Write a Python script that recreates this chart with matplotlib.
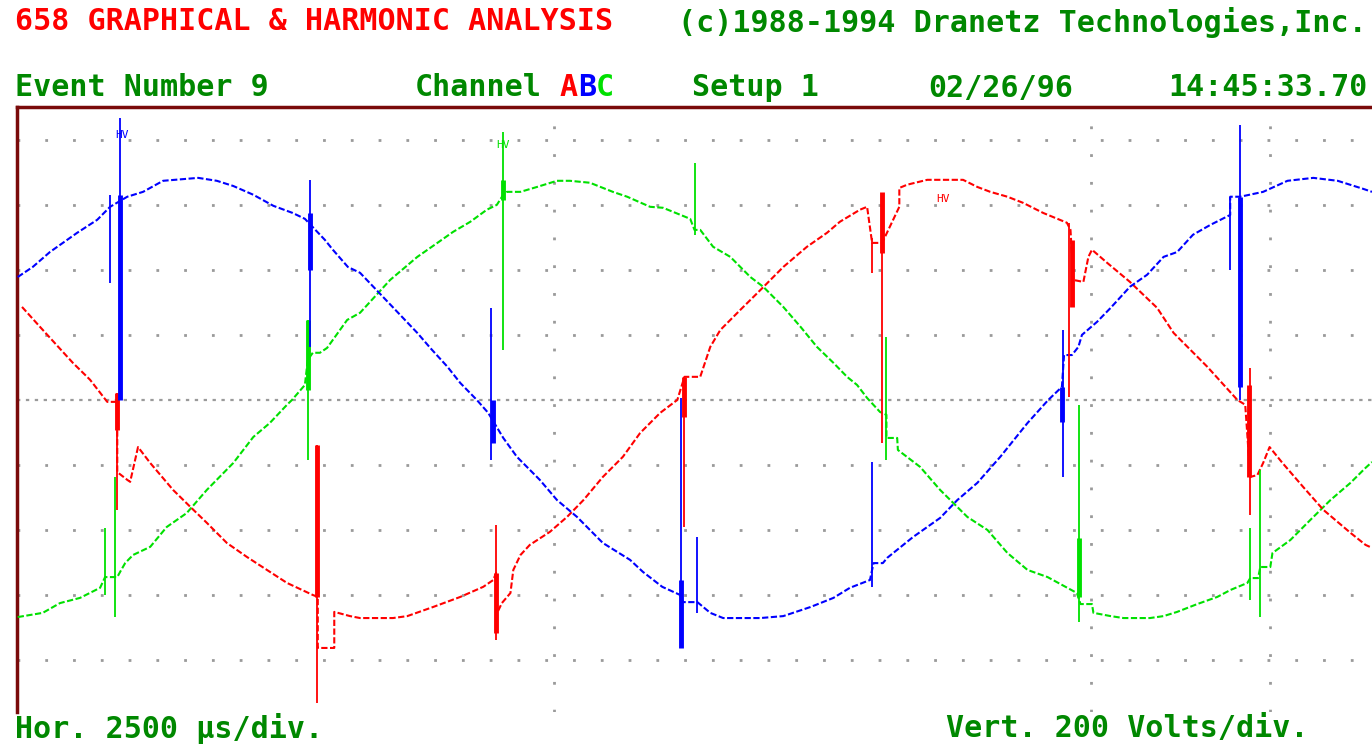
import matplotlib
matplotlib.use("Agg")
import matplotlib.pyplot as plt

# Dranetz 658 capture, event 9: three phase voltages (V) vs time (ms)
# 2500 us/div horizontally, 200 V/div vertically

# phase A (red) - smooth part of the trace
red_t = [0.07, 0.32, 0.78, 1.02, 1.26, 1.40, 1.40, 1.54, 1.58, 1.69, 1.86, 2.18, 2.42, 2.65,
         2.93, 3.21, 3.49, 3.77, 4.13, 4.20, 4.20, 4.43, 4.43, 4.65, 4.79, 5.25, 5.45, 5.81,
         6.19, 6.51, 6.65, 6.69, 6.69, 6.77, 6.89, 6.93, 7.03, 7.16, 7.44, 7.68, 7.91, 8.18,
         8.46, 8.70, 8.98, 9.22, 9.32, 9.54, 9.68, 9.82, 10.10, 10.38, 10.70, 11.03, 11.31,
         11.49, 11.77, 11.87, 11.94, 12.08, 12.32, 12.32, 12.43, 12.71, 13.21, 13.41, 13.59,
         13.83, 14.05, 14.33, 14.66, 14.71, 14.75, 14.89, 14.96, 15.01, 15.22, 15.54, 15.92,
         16.15, 16.62, 17.04, 17.15, 17.22, 17.32, 17.40, 17.49, 17.67, 17.96, 18.24, 18.62,
         18.83, 18.92]
red_v = [286, 225, 114, 62, -6, -6, -222, -246, -252, -145, -194, -277, -329, -378,
         -440, -483, -523, -563, -600, -606, -763, -763, -652, -665, -671, -671, -665, -637,
         -606, -575, -554, -532, -662, -625, -594, -523, -477, -446, -406, -360, -308, -237,
         -175, -102, -40, 0, 71, 71, 163, 215, 277, 338, 409, 471, 514,
         548, 585, 594, 483, 483, 594, 652, 662, 677, 677, 655, 640,
         625, 606, 575, 545, 523, 369, 363, 440, 462, 422, 363, 283,
         206, 102, 0, -15, -237, -231, -194, -145, -194, -268, -338, -409,
         -446, -455]

# phase B (blue)
blue_t = [0.01, 0.22, 0.46, 0.84, 1.12, 1.30, 1.54, 1.76, 2.04, 2.53, 2.79, 3.02, 3.30, 3.58,
          3.85, 4.02, 4.30, 4.41, 4.62, 4.79, 5.11, 5.59, 5.77, 6.01, 6.19, 6.42, 6.58, 6.79,
          6.98, 7.30, 7.54, 7.82, 8.18, 8.56, 8.74, 9.01, 9.26, 9.30, 9.50, 9.68, 9.86, 10.38,
          10.70, 11.08, 11.40, 11.63, 11.91, 11.96, 12.09, 12.15, 12.51, 12.89, 13.13, 13.41,
          13.73, 14.11, 14.40, 14.59, 14.62, 14.73, 14.82, 14.87, 15.08, 15.27, 15.54, 15.78,
          16.01, 16.20, 16.42, 16.66, 16.94, 16.94, 17.08, 17.40, 17.74, 18.10, 18.44, 18.80,
          18.92]
blue_v = [378, 409, 455, 514, 554, 594, 625, 640, 674, 683, 674, 658, 631, 597,
          575, 557, 492, 462, 409, 391, 317, 206, 160, 102, 52, 0, -40, -117,
          -175, -246, -308, -360, -440, -492, -529, -575, -600, -622, -622, -655, -671, -671,
          -665, -637, -609, -578, -554, -502, -502, -486, -422, -363, -308, -255,
          -175, -71, 0, 40, 138, 138, 163, 200, 240, 283, 348, 385,
          440, 455, 508, 538, 569, 625, 625, 640, 674, 683, 674, 649,
          640]

# phase C (green)
green_t = [0.01, 0.36, 0.60, 0.88, 1.16, 1.23, 1.40, 1.44, 1.51, 1.62, 1.86, 2.09, 2.37, 2.65,
           3.02, 3.30, 3.53, 3.77, 3.84, 4.02, 4.06, 4.13, 4.23, 4.33, 4.61, 4.79, 5.21, 5.59,
           5.87, 6.09, 6.33, 6.56, 6.70, 6.79, 6.84, 7.03, 7.26, 7.54, 7.72, 8.00, 8.32, 8.52,
           8.84, 9.02, 9.40, 9.46, 9.54, 9.72, 9.96, 10.24, 10.42, 10.70, 10.94, 11.17, 11.40,
           11.59, 11.73, 11.87, 12.05, 12.14, 12.14, 12.29, 12.30, 12.61, 12.89, 13.27, 13.55,
           13.83, 14.11, 14.39, 14.80, 14.85, 15.01, 15.03, 15.27, 15.45, 15.82, 16.01, 16.20,
           16.48, 16.76, 16.94, 17.18, 17.22, 17.33, 17.36, 17.50, 17.53, 17.78, 18.06, 18.34,
           18.62, 18.83, 18.92]
green_v = [-668, -655, -625, -609, -578, -545, -545, -529, -502, -477, -452, -391, -348, -277,
           -194, -114, -71, -15, 0, 46, 123, 145, 145, 160, 246, 268, 369, 440,
           483, 517, 548, 585, 600, 631, 640, 640, 655, 674, 674, 668, 640, 625,
           594, 591, 557, 523, 523, 471, 440, 378, 348, 286, 225, 163, 114,
           71, 46, 6, -37, -46, -117, -117, -154, -206, -277, -360, -400,
           -471, -523, -545, -594, -628, -628, -655, -665, -671, -671, -665, -652,
           -628, -606, -585, -563, -548, -548, -514, -514, -471, -431, -369, -308,
           -255, -209, -191]

# commutation notches / transients: time, low V, high V
red_spk_t = [1.40, 4.19, 6.69, 9.32, 11.94, 12.08, 14.69, 17.22]
red_spk_lo = [-338, -932, -738, -391, 391, -132, 9, -354]
red_spk_hi = [22, -138, -385, 71, 498, 452, 545, 98]
red_bar_t = [1.40, 4.19, 6.69, 9.32, 12.08, 14.73, 17.20]
red_bar_lo = [-92, -606, -717, -52, 452, 286, -237]
red_bar_hi = [22, -138, -532, 71, 640, 492, 46]

blue_spk_t = [1.30, 1.44, 4.09, 6.62, 9.27, 9.50, 11.94, 14.60, 16.94, 17.08]
blue_spk_lo = [360, 0, 163, -185, -763, -655, -575, -237, 400, 0]
blue_spk_hi = [631, 868, 677, 283, 6, -422, -191, 215, 625, 846]
blue_bar_t = [1.44, 4.09, 6.65, 9.27, 14.59, 17.08]
blue_bar_lo = [0, 400, -132, -763, -68, 40]
blue_bar_hi = [631, 575, 0, -554, 40, 625]

green_spk_t = [1.23, 1.37, 4.06, 6.79, 9.46, 12.14, 14.83, 17.22, 17.35]
green_spk_lo = [-600, -668, -185, 154, 508, -185, -683, -615, -668]
green_spk_hi = [-394, -237, 246, 825, 729, 194, -15, -394, -215]
green_bar_t = [4.06, 6.79, 14.83]
green_bar_lo = [31, 615, -606]
green_bar_hi = [246, 677, -425]

# "HV" flags: (time, volts)
hv_marks = [(1.47, 815, "blue"), (6.79, 785, "green"), (12.93, 618, "red")]

v_grid = [-800, -600, -400, -200, 200, 400, 600, 800]
t_grid = [7.5, 15.0, 17.5]

RED = "#ff0000"
BLUE = "#0000ff"
GREEN = "#00e000"
TXT_GREEN = "#008800"
GRID = "#9a9a9a"
W, H = 1372, 744

fig = plt.figure(figsize=(W / 100, H / 100), dpi=100)
ax = fig.add_axes([17 / W, 1 - 712 / H, (W - 17) / W, (712 - 107) / H])
ax.set_xlim(0, 18.92)
ax.set_ylim(-960, 901)
ax.set_xticks([])
ax.set_yticks([])
for s in ["bottom", "right"]:
    ax.spines[s].set_visible(False)
for s in ["top", "left"]:
    ax.spines[s].set_color("#7a0a0a")
    ax.spines[s].set_linewidth(2.5)

# grid
for v in v_grid:
    ax.axhline(v, color=GRID, lw=2.0, linestyle=(0, (1, 9)), zorder=1)
ax.axhline(0, color=GRID, lw=1.6, linestyle=(0, (1.5, 2.5)), zorder=1)
for t in t_grid:
    ax.axvline(t, color=GRID, lw=2.0, linestyle=(0, (1, 9)), zorder=1)

traces = [
    (green_t, green_v, green_spk_t, green_spk_lo, green_spk_hi,
     green_bar_t, green_bar_lo, green_bar_hi, GREEN),
    (red_t, red_v, red_spk_t, red_spk_lo, red_spk_hi,
     red_bar_t, red_bar_lo, red_bar_hi, RED),
    (blue_t, blue_v, blue_spk_t, blue_spk_lo, blue_spk_hi,
     blue_bar_t, blue_bar_lo, blue_bar_hi, BLUE),
]
for t, v, st, slo, shi, bt, blo, bhi, c in traces:
    ax.plot(t, v, color=c, lw=1.5, linestyle=(0, (3, 1.2)), zorder=3)
    ax.vlines(st, slo, shi, colors=c, lw=1.3, zorder=4)
    ax.vlines(bt, blo, bhi, colors=c, lw=3.5, zorder=4)

cmap = {"blue": BLUE, "green": GREEN, "red": RED}
for t, v, c in hv_marks:
    ax.text(t, v, "HV", color=cmap[c], fontsize=8, ha="center", va="center",
            family="DejaVu Sans Mono", zorder=5)

# header / footer text
font = dict(family="DejaVu Sans Mono", weight="bold", fontsize=21.6, va="center", ha="left")


def put(x, y, s, c):
    fig.text(x / W, 1 - y / H, s, color=c, **font)


put(15, 22, "658 GRAPHICAL & HARMONIC ANALYSIS", RED)
put(678, 22, "(c)1988-1994 Dranetz Technologies,Inc.", TXT_GREEN)
put(15, 88, "Event Number 9", TXT_GREEN)
put(415, 88, "Channel", TXT_GREEN)
put(560, 88, "A", RED)
put(578, 88, "B", BLUE)
put(596, 88, "C", GREEN)
put(692, 88, "Setup 1", TXT_GREEN)
put(928, 88, "02/26/96", TXT_GREEN)
put(1168, 88, "14:45:33.70", TXT_GREEN)
put(15, 728, "Hor. 2500 \u00b5s/div.", TXT_GREEN)
put(946, 728, "Vert. 200 Volts/div.", TXT_GREEN)

fig.savefig("out.png", dpi=100)
